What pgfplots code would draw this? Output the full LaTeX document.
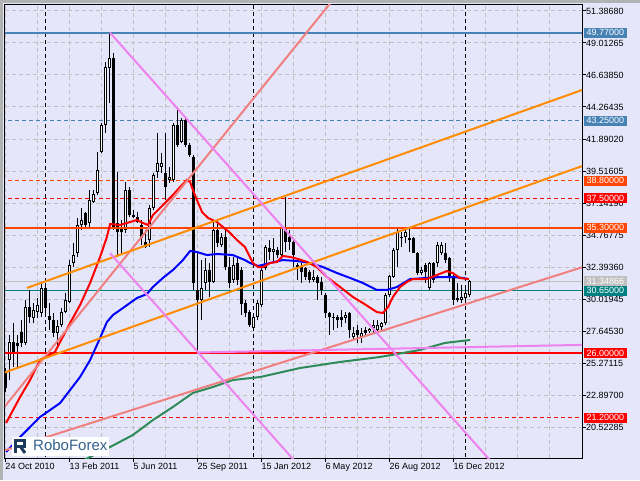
\documentclass[border=0pt]{standalone}
\usepackage{pgfplots}
\usepackage{pgfplotstable}
\pgfplotsset{compat=1.18}
\usepackage{fontspec}
\setmainfont{Liberation Sans}
\definecolor{bg}{RGB}{230,230,250}
\definecolor{gridgray}{RGB}{192,192,192}
\definecolor{steel}{RGB}{70,130,180}
\definecolor{ored}{RGB}{255,69,0}
\definecolor{dorange}{RGB}{255,140,0}
\definecolor{lcoral}{RGB}{240,128,128}
\definecolor{violetc}{RGB}{238,130,238}
\definecolor{tealc}{RGB}{0,128,128}
\definecolor{silverc}{RGB}{192,192,192}
\definecolor{seag}{RGB}{46,139,87}
\definecolor{logonavy}{RGB}{27,58,92}
\definecolor{logoblue}{RGB}{52,97,143}

\pgfplotstableread{
k O H L C
0 24.53 24.90 23.12 23.42
1 25.49 27.35 24.01 26.83
2 26.83 28.24 24.97 26.09
3 26.76 27.35 24.97 26.54
4 27.57 28.46 26.46 26.76
5 26.76 29.95 26.61 29.43
6 29.43 30.69 28.24 28.68
7 28.61 29.72 28.24 29.20
8 29.06 30.09 28.61 29.57
9 28.98 31.21 28.68 30.84
10 30.84 31.21 28.68 29.35
11 28.76 29.72 27.72 28.46
12 28.46 28.98 27.20 27.50
13 27.50 28.46 26.46 28.02
14 28.09 29.35 27.94 29.06
15 29.06 30.46 28.98 29.95
16 29.80 32.91 29.72 32.54
17 32.69 34.17 32.39 33.28
18 33.43 36.03 33.14 35.51
19 35.51 36.77 35.14 35.88
20 36.40 36.48 35.36 35.51
21 35.66 38.11 35.36 37.37
22 37.22 38.11 37.14 37.81
23 37.88 40.93 37.74 39.59
24 40.93 43.08 40.85 42.93
25 42.93 47.60 42.34 47.23
26 47.16 49.77 44.56 47.90
27 47.90 48.27 35.14 35.36
28 35.66 39.44 33.14 34.99
29 35.36 35.88 33.28 34.99
30 35.14 38.70 34.92 38.11
31 38.11 38.33 36.10 36.25
32 36.25 36.62 36.03 36.10
33 36.10 36.48 35.66 35.73
34 35.51 35.88 34.03 34.55
35 34.25 35.14 33.80 33.88
36 34.40 36.99 33.88 36.77
37 36.77 39.37 36.62 39.22
38 39.44 42.34 39.00 40.11
39 39.81 40.85 39.37 40.11
40 39.37 42.34 37.37 38.33
41 38.85 39.81 38.63 39.07
42 38.85 43.08 38.70 42.93
43 42.93 44.27 41.30 41.45
44 41.67 43.45 41.60 43.30
45 43.30 43.45 41.30 41.45
46 41.45 41.60 40.56 40.70
47 40.56 40.70 30.69 31.21
48 30.69 33.43 26.05 29.95
49 29.95 32.91 28.46 30.84
50 31.21 33.06 30.69 32.17
51 32.17 32.69 30.17 31.28
52 31.28 35.88 31.21 35.14
53 35.14 35.73 33.88 34.17
54 34.03 34.92 33.88 34.62
55 34.62 35.14 32.17 32.39
56 32.39 33.14 30.84 31.21
57 31.43 33.14 31.21 32.54
58 32.69 33.06 31.06 31.43
59 32.17 32.39 28.83 29.65
60 29.72 29.95 28.68 28.98
61 29.06 29.20 27.94 28.09
62 27.87 28.98 27.72 28.68
63 28.68 29.95 28.46 29.72
64 29.57 32.39 29.43 32.17
65 32.32 34.03 32.17 33.88
66 33.80 34.40 32.91 33.51
67 33.51 34.55 32.77 33.73
68 33.66 33.88 33.06 33.28
69 33.28 35.36 33.14 35.29
70 35.29 37.59 33.51 34.25
71 34.62 35.14 33.66 34.25
72 34.25 34.40 32.39 33.28
73 32.54 32.69 31.43 32.32
74 32.39 32.69 31.21 32.02
75 32.32 32.39 31.43 31.65
76 32.02 32.17 31.21 31.43
77 31.43 32.17 31.28 31.65
78 31.65 31.80 29.95 31.21
79 31.28 31.65 30.32 30.69
80 30.32 30.47 28.61 28.98
81 28.98 29.06 27.35 28.68
82 28.68 28.98 27.72 28.61
83 28.68 28.83 27.87 28.46
84 28.68 29.20 27.94 28.46
85 28.61 29.06 28.24 28.83
86 28.98 29.06 27.13 27.72
87 27.20 27.94 26.98 27.50
88 27.72 28.09 26.76 27.35
89 27.20 27.87 26.76 27.50
90 27.72 27.94 27.20 27.50
91 27.65 27.87 27.50 27.80
92 27.87 28.46 27.50 28.09
93 27.72 28.46 27.50 28.09
94 27.94 28.31 27.72 28.24
95 28.24 30.47 28.09 30.32
96 30.32 31.80 30.17 31.73
97 31.65 33.80 31.58 33.66
98 33.66 35.29 32.39 34.99
99 34.62 34.99 33.88 34.55
100 34.62 35.29 34.17 34.99
101 34.55 35.29 33.51 34.40
102 34.55 34.62 33.43 33.43
103 33.43 33.51 31.80 31.95
104 31.95 32.39 31.80 32.17
105 32.54 32.69 31.21 32.02
106 30.84 32.76 30.69 32.69
107 32.69 32.77 31.21 31.43
108 32.69 34.25 32.39 34.03
109 33.43 34.25 33.28 34.03
110 33.43 34.17 32.69 32.91
111 33.06 33.14 31.28 31.58
112 31.65 31.80 29.57 29.95
113 30.09 31.21 29.80 29.95
114 29.95 31.06 29.72 30.17
115 30.09 30.99 29.80 30.47
116 30.32 31.43 30.17 31.35
}\candles

\begin{document}
\begin{tikzpicture}
\path[use as bounding box] (0pt,0pt) rectangle (640pt,480pt);
\fill[bg] (0pt,0pt) rectangle (640pt,480pt);
\fill[gray!60] (0pt,0pt) rectangle (3pt,480pt);
\fill[gray!60] (0pt,477pt) rectangle (640pt,480pt);
\begin{axis}[
  at={(5pt,22pt)}, anchor=south west,
  scale only axis, width=577pt, height=453pt,
  xmin=-0.075, xmax=144.175, ymin=18.224, ymax=51.832,
  axis line style={black, line width=1pt},
  tick style={black, line width=1pt},
  tick align=outside, major tick length=4pt, minor tick length=0pt,
  xtick pos=left, ytick pos=right, yticklabel pos=right,
  xtick={0,16,32,48,64,80,96,112},
  xticklabels={24 Oct 2010, 13 Feb 2011, 5 Jun 2011, 25 Sep 2011, 15 Jan 2012, 6 May 2012, 26 Aug 2012, 16 Dec 2012},
  minor xtick={8,24,40,56,72,88,104,120,128,136},
  ytick={20.52285,22.89700,25.27115,27.64530,30.01945,32.39360,34.76775,37.14190,39.51605,41.89020,44.26435,46.63850,49.01265,51.38680},
  yticklabels={20.52285,22.89700,25.27115,27.64530,30.01945,32.39360,34.76775,37.14190,39.51605,41.89020,44.26435,46.63850,49.01265,51.38680},
  xticklabel style={anchor=north west, inner sep=0pt, yshift=-1pt, font=\fontsize{9}{10}\selectfont},
  yticklabel style={anchor=west, inner sep=0pt, font=\fontsize{9}{10}\selectfont},
  xmajorgrids, xminorgrids, ymajorgrids,
  grid style={draw=gridgray, line width=1pt, dash pattern=on 4pt off 3pt},
  minor grid style={draw=gridgray, line width=1pt, dash pattern=on 4pt off 3pt},
]
% vertical dashed black lines
\addplot[black, line width=1pt, dash pattern=on 4pt off 3pt] coordinates {(10,10) (10,60)};
\addplot[black, line width=1pt, dash pattern=on 4pt off 3pt] coordinates {(62,10) (62,60)};
\addplot[black, line width=1pt, dash pattern=on 4pt off 3pt] coordinates {(115,10) (115,60)};
% horizontal levels (thin)
\addplot[steel, line width=1pt, dash pattern=on 4pt off 3pt] coordinates {(-1,43.25) (145,43.25)};
\addplot[ored, line width=1pt, dash pattern=on 4pt off 3pt] coordinates {(-1,38.80) (145,38.80)};
\addplot[red, line width=1pt, dash pattern=on 4pt off 3pt] coordinates {(-1,37.50) (145,37.50)};
\addplot[red, line width=1pt, dash pattern=on 4pt off 3pt] coordinates {(-1,21.20) (145,21.20)};
\addplot[silverc, line width=1pt] coordinates {(-1,31.34866) (145,31.34866)};
\addplot[tealc, line width=1pt] coordinates {(-1,30.65) (145,30.65)};
% candles: wicks
\addplot[draw=none, mark=none, forget plot, error bars/.cd, y dir=plus, y explicit, error mark=none,
  error bar style={draw=black, solid, line width=1pt}]
  table[x=k, y=L, y error plus expr={\thisrow{H}-\thisrow{L}}] {\candles};
% candles: bodies
\addplot[draw=none, mark=none, forget plot, error bars/.cd, y dir=plus, y explicit, error mark=none,
  error bar style={draw=black, solid, line width=3pt}]
  table[x=k, y expr={min(\thisrow{O},\thisrow{C})}, y error plus expr={max(abs(\thisrow{C}-\thisrow{O}),0.075)}] {\candles};
% candles: white interiors
\addplot[draw=none, mark=none, forget plot, error bars/.cd, y dir=plus, y explicit, error mark=none,
  error bar style={draw=white, solid, line width=1pt}]
  table[x=k, y expr={\thisrow{O}+0.0742}, y error plus expr={(\thisrow{C}>\thisrow{O})*max(\thisrow{C}-\thisrow{O}-0.1484,0)}] {\candles};
% thick levels
\addplot[steel, line width=2pt] coordinates {(-1,49.77) (145,49.77)};
\addplot[ored, line width=2pt] coordinates {(-1,35.30) (145,35.30)};
\addplot[red, line width=2pt] coordinates {(-1,26.00) (145,26.00)};
% moving averages
\addplot[seag, line width=2pt] coordinates {(18,17.83) (21.2,18.30) (26.2,19.04) (31.9,19.93) (36.9,21.04) (41.9,22.01) (46.9,23.05) (51.9,23.49) (56.9,24.01) (63.7,24.23) (73.7,24.90) (83.7,25.35) (93.7,25.72) (103.7,26.24) (109.9,26.76) (116.2,26.98)};
\addplot[blue, line width=2pt] coordinates {(0.2,18.67) (3.7,19.78) (8.7,21.27) (13.7,22.30) (16.2,23.27) (18.7,24.24) (21.2,25.49) (23.7,27.13) (25.4,28.31) (26.9,28.83) (29.4,29.35) (32.9,30.09) (35.4,30.39) (36.9,30.91) (39.4,31.58) (41.9,32.17) (44.4,32.91) (46.2,33.58) (47.9,33.51) (50.4,33.28) (52.9,33.36) (56.9,33.28) (59.9,32.91) (61.2,32.69) (63.2,32.47) (66.2,32.69) (69.4,32.91) (72.9,32.84) (76.2,32.69) (79.4,32.39) (82.9,31.95) (86.2,31.58) (89.4,31.21) (92.9,30.69) (95.4,30.69) (97.9,30.91) (101.2,31.50) (105.4,31.58) (108.7,31.65) (111.9,31.65) (114.4,31.58) (115.7,31.50)};
\addplot[red, line width=2pt] coordinates {(0.2,20.82) (3.7,22.75) (6.2,24.01) (8.7,25.51) (12.4,26.09) (16.2,28.24) (18.7,29.58) (21.2,31.21) (23.7,33.14) (25.4,34.62) (26.2,35.58) (28.7,35.51) (31.2,35.73) (32.9,35.88) (34.4,35.66) (35.7,35.51) (36.9,36.25) (39.4,36.99) (41.9,37.74) (43.7,38.33) (45.4,38.85) (46.2,38.70) (46.9,38.11) (47.9,37.37) (49.2,36.47) (50.7,36.03) (52.9,35.73) (54.4,35.36) (56.2,34.92) (57.9,34.40) (59.9,33.88) (61.9,32.69) (63.2,32.39) (64.4,32.39) (66.2,32.69) (67.9,32.77) (69.4,33.21) (71.2,33.14) (73.2,32.99) (75.4,32.77) (77.9,32.39) (80.4,31.65) (83.7,30.91) (86.9,30.17) (89.4,29.72) (92.9,29.05) (94.4,28.98) (95.7,29.43) (96.9,30.17) (98.7,30.91) (100.4,31.28) (101.9,31.50) (105.4,31.50) (107.9,31.80) (110.4,32.09) (111.9,31.94) (113.7,31.57) (115.9,31.50)};
% trend lines
\addplot[lcoral, line width=2pt] coordinates {(-1,21.73) (82,52.24)};
\addplot[lcoral, line width=2pt] coordinates {(-1,18.71) (145,32.45)};
\addplot[dorange, line width=2pt] coordinates {(5.4,30.84) (145,45.61)};
\addplot[dorange, line width=2pt] coordinates {(-1,24.48) (145,39.97)};
\addplot[violetc, line width=2pt] coordinates {(26.2,49.77) (123,17.45)};
\addplot[violetc, line width=2pt] coordinates {(26.2,33.41) (75,17.12)};
\addplot[violetc, line width=2pt] coordinates {(47.9,26.05) (145,26.62)};
% label anchors
\coordinate (l1) at (axis cs:144.175,49.77);
\coordinate (l2) at (axis cs:144.175,43.25);
\coordinate (l3) at (axis cs:144.175,38.80);
\coordinate (l4) at (axis cs:144.175,37.50);
\coordinate (l5) at (axis cs:144.175,35.30);
\coordinate (l6) at (axis cs:144.175,31.34866);
\coordinate (l7) at (axis cs:144.175,30.65);
\coordinate (l8) at (axis cs:144.175,26.00);
\coordinate (l9) at (axis cs:144.175,21.20);
\end{axis}
\tikzset{lab/.style={anchor=west, text=white, inner xsep=2.5pt, inner ysep=0pt, minimum height=10pt, font=\fontsize{9}{10}\selectfont, xshift=2pt}}
\node[lab, fill=steel] at (l1) {49.77000};
\node[lab, fill=steel] at (l2) {43.25000};
\node[lab, fill=ored] at (l3) {38.80000};
\node[lab, fill=red] at (l4) {37.50000};
\node[lab, fill=ored] at (l5) {35.30000};
\node[lab, fill=silverc] at (l6) {31.34866};
\node[lab, fill=tealc] at (l7) {30.65000};
\node[lab, fill=red] at (l8) {26.00000};
\node[lab, fill=red] at (l9) {21.20000};
% logo
\fill[white] (12pt,24pt) rectangle (109pt,43pt);
\draw[logonavy, line width=3pt] (15pt,27pt) -- (15pt,40pt) -- (24pt,40pt) -- (24pt,34pt) -- (15pt,34pt);
\draw[logonavy, line width=3pt] (20pt,34pt) -- (25pt,27pt);
\node[anchor=base west, inner sep=0pt, text=logoblue, font=\fontsize{15}{16}\selectfont] at (33pt,30pt) {RoboForex};
\end{tikzpicture}
\end{document}
